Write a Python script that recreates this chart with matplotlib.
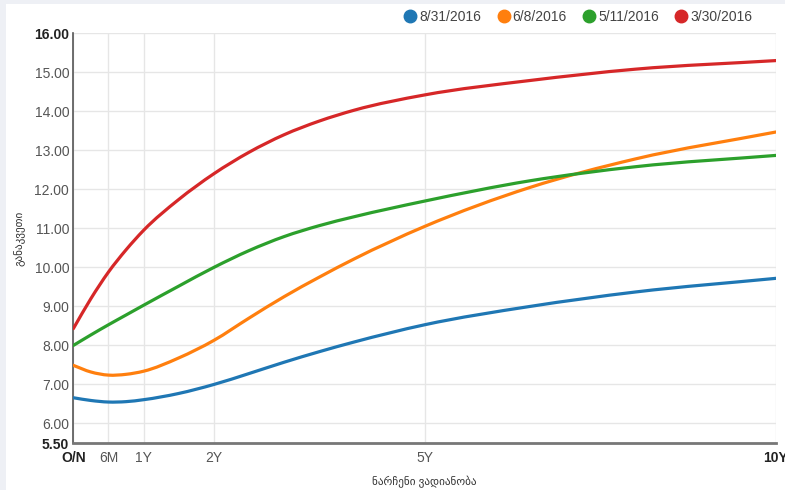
import numpy as np
import matplotlib.pyplot as plt
from matplotlib.lines import Line2D
from matplotlib.patches import Rectangle, PathPatch
from matplotlib.path import Path

plt.rcParams['font.family'] = ['Liberation Sans', 'DejaVu Sans']

# maturities in years (0 = overnight)
maturity = [0, 0.25, 0.5, 0.75, 1, 1.5, 2, 2.5, 3, 3.5, 4, 5, 6.5, 8, 10]

rate_0831 = [6.66, 6.59, 6.55, 6.56, 6.61, 6.77, 7.00, 7.28, 7.57, 7.84, 8.09, 8.53, 9.00, 9.37, 9.72]
rate_0608 = [7.49, 7.32, 7.24, 7.26, 7.34, 7.68, 8.13, 8.70, 9.25, 9.75, 10.22, 11.05, 12.05, 12.78, 13.47]
rate_0511 = [8.00, 8.27, 8.53, 8.78, 9.03, 9.52, 10.00, 10.43, 10.79, 11.07, 11.30, 11.70, 12.22, 12.58, 12.87]
rate_0330 = [8.43, 9.20, 9.88, 10.45, 10.95, 11.74, 12.40, 12.95, 13.40, 13.75, 14.03, 14.42, 14.79, 15.08, 15.30]

series = {
    '8/31/2016': (rate_0831, '#1f77b4'),
    '6/8/2016': (rate_0608, '#ff7f0e'),
    '5/11/2016': (rate_0511, '#2ca02c'),
    '3/30/2016': (rate_0330, '#d62728'),
}

x_ticks = [0, 0.5, 1, 2, 5, 10]
x_labels = ['O/N', '6M', '1Y', '2Y', '5Y', '10Y']
y_ticks = [5.5, 6, 7, 8, 9, 10, 11, 12, 13, 14, 15, 16]


def spline_path(x, y):
    """Cubic Bezier path through every (x, y) point, like a spline series."""
    x = np.asarray(x, float)
    y = np.asarray(y, float)
    h = np.diff(x)
    d = np.diff(y) / h
    m = np.empty_like(y)
    m[0], m[-1] = d[0], d[-1]
    m[1:-1] = (d[:-1] * h[1:] + d[1:] * h[:-1]) / (h[:-1] + h[1:])
    verts = [(x[0], y[0])]
    codes = [Path.MOVETO]
    for i in range(len(h)):
        verts += [(x[i] + h[i] / 3, y[i] + m[i] * h[i] / 3),
                  (x[i + 1] - h[i] / 3, y[i + 1] - m[i + 1] * h[i] / 3),
                  (x[i + 1], y[i + 1])]
        codes += [Path.CURVE4] * 3
    return Path(verts, codes)


fig = plt.figure(figsize=(7.85, 4.9), dpi=100, facecolor='white')
# thin grey page margin along the top and left edges
fig.patches.append(Rectangle((0, 1 - 4 / 490), 1, 4 / 490, transform=fig.transFigure,
                             facecolor='#eef0f5', edgecolor='none'))
fig.patches.append(Rectangle((0, 0), 6 / 785, 1, transform=fig.transFigure,
                             facecolor='#eef0f5', edgecolor='none'))
ax = fig.add_axes([0.0934, 0.0959, 0.8951, 0.8362])

for label, (vals, color) in series.items():
    ax.add_patch(PathPatch(spline_path(maturity, vals), facecolor='none', edgecolor=color,
                           lw=2.3, capstyle='round', zorder=3))

ax.set_xlim(0, 10)
ax.set_ylim(5.5, 16)
ax.set_xticks(x_ticks)
ax.set_xticklabels(x_labels)
ax.set_yticks(y_ticks)
ax.set_yticklabels([f'{v:.2f}' for v in y_ticks])
ax.tick_params(length=0, labelsize=10, colors='#555555')
ax.tick_params(axis='x', pad=6)
ax.tick_params(axis='y', pad=3)
for t in (ax.get_xticklabels()[0], ax.get_xticklabels()[-1],
          ax.get_yticklabels()[0], ax.get_yticklabels()[-1]):
    t.set_fontweight('bold')
    t.set_color('#222222')

ax.grid(True, color='#e6e6e6', lw=1)
ax.set_axisbelow(True)
for side in ('top', 'right'):
    ax.spines[side].set_visible(False)
ax.spines['left'].set_color('#555555')
ax.spines['left'].set_linewidth(1.2)
ax.spines['bottom'].set_color('#777777')
ax.spines['bottom'].set_linewidth(2)

ax.set_xlabel('ნარჩენი ვადიანობა', fontsize=8, color='#333333')
ax.set_ylabel('განაკვეთი', fontsize=8, color='#333333')
ax.xaxis.set_label_coords(0.5, -0.080)
ax.yaxis.set_label_coords(-0.070, 0.5)

handles = [Line2D([], [], ls='none', marker='o', ms=9, color=c) for _, c in series.values()]
fig.legend(handles, list(series.keys()), ncol=4, frameon=False, loc='center right',
           bbox_to_anchor=(0.967, 0.966), fontsize=10, labelcolor='#444444',
           handlelength=0.7, handletextpad=0.3, columnspacing=1.25, borderpad=0)

fig.savefig('out.png', dpi=100, facecolor=fig.get_facecolor())
